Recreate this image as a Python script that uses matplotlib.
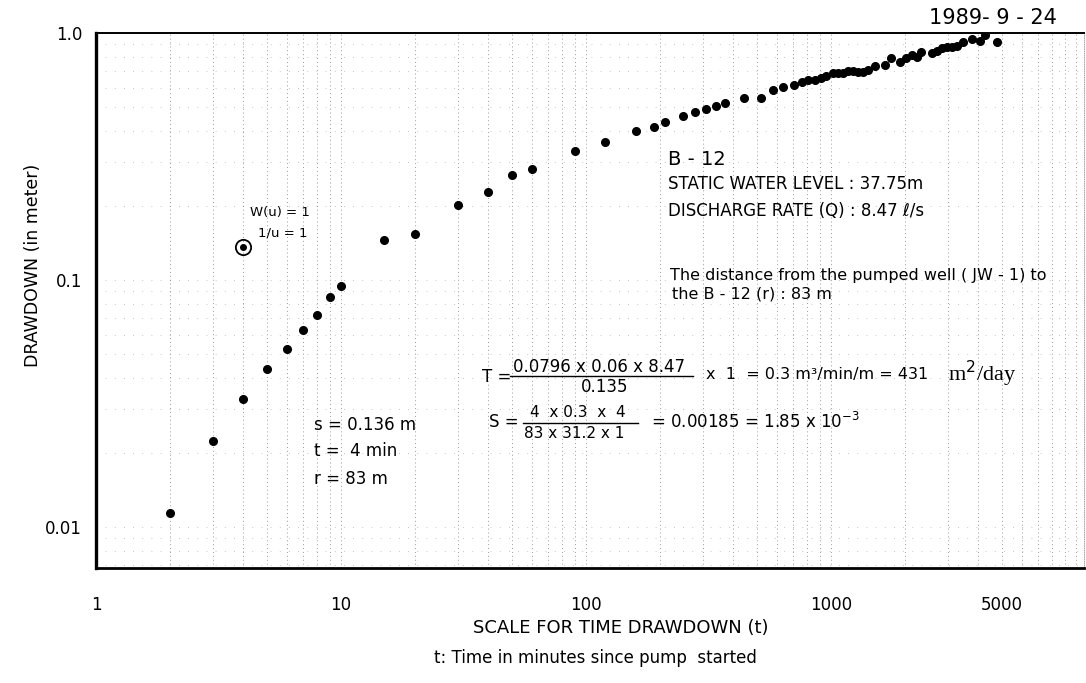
import matplotlib
matplotlib.use("Agg")
import matplotlib.pyplot as plt
from matplotlib.lines import Line2D
from matplotlib.ticker import LogLocator, NullFormatter

# observation well B-12: time since pumping started (min) and drawdown (m)
time_min = [2, 3, 4, 5, 6, 7, 8, 9, 10, 15, 20, 30, 40, 50, 60, 90,
            120, 160, 190, 210, 250, 280, 310, 340, 370, 440, 520, 580,
            640, 710, 760, 810, 860, 910, 955, 1020, 1070, 1120, 1170,
            1230, 1290, 1350, 1420, 1510, 1660, 1760, 1910, 2030, 2140,
            2250, 2330, 2580, 2710, 2840, 2970, 3120, 3270, 3460, 3760,
            4060, 4250, 4760]
drawdown_m = [0.0114, 0.0223, 0.033, 0.0436, 0.0526, 0.0628, 0.0722, 0.0853,
              0.0946, 0.145, 0.154, 0.201, 0.227, 0.266, 0.281, 0.333,
              0.362, 0.401, 0.416, 0.436, 0.461, 0.479, 0.492, 0.506, 0.521,
              0.546, 0.546, 0.588, 0.604, 0.616, 0.633, 0.645, 0.645, 0.657,
              0.670, 0.689, 0.689, 0.689, 0.702, 0.702, 0.695, 0.695, 0.708,
              0.735, 0.742, 0.792, 0.763, 0.792, 0.815, 0.799, 0.838, 0.830,
              0.846, 0.870, 0.877, 0.877, 0.886, 0.920, 0.946, 0.929, 0.981,
              0.920]

# match point of the type curve, W(u) = 1 and 1/u = 1
match_t = 4
match_s = 0.136

x_ticks = [1, 10, 100, 1000, 5000]
x_tick_labels = ["1", "10", "100", "1000", "5000"]
y_ticks = [0.01, 0.1, 1.0]
y_tick_labels = ["0.01", "0.1", "1.0"]

fig = plt.figure(figsize=(10.86, 6.83), dpi=100)
ax = fig.add_axes([0.0884, 0.1684, 0.9098, 0.7833])
ax.set_xscale("log")
ax.set_yscale("log")
ax.set_xlim(1, 10800)
ax.set_ylim(0.00683, 1.0)

# log paper grid
ax.xaxis.set_minor_locator(LogLocator(base=10, subs=range(1, 10), numticks=30))
ax.yaxis.set_minor_locator(LogLocator(base=10, subs=range(1, 10), numticks=30))
ax.xaxis.set_minor_formatter(NullFormatter())
ax.yaxis.set_minor_formatter(NullFormatter())
ax.grid(True, which="both", axis="x", color="black", lw=0.7,
        ls=(0, (1, 3)), alpha=0.4)
ax.grid(True, which="both", axis="y", color="black", lw=0.6,
        ls=(0, (1, 10)), alpha=0.3)
ax.set_axisbelow(True)

ax.set_xticks(x_ticks)
ax.set_xticklabels(x_tick_labels)
ax.set_yticks(y_ticks)
ax.set_yticklabels(y_tick_labels)
ax.tick_params(which="both", length=0)
ax.tick_params(axis="x", pad=20, labelsize=12)
ax.tick_params(axis="y", pad=10, labelsize=12)

for side, lw in [("left", 2.4), ("bottom", 2.0), ("top", 1.4)]:
    ax.spines[side].set_linewidth(lw)
ax.spines["right"].set_linewidth(0.6)
ax.spines["right"].set_color("0.6")
ax.spines["right"].set_linestyle(":")

ax.plot(time_min, drawdown_m, "o", color="black", ms=5.5, zorder=3)
ax.plot(match_t, match_s, "o", mfc="none", mec="black", ms=11, mew=1.3, zorder=3)
ax.plot(match_t, match_s, "o", color="black", ms=4, zorder=3)

tr = ax.transAxes
ax.text(0.156, 0.664, "W(u) = 1", transform=tr, fontsize=9.5, va="center")
ax.text(0.164, 0.626, "1/u = 1", transform=tr, fontsize=9.5, va="center")

ax.text(0.579, 0.764, "B - 12", transform=tr, fontsize=14, va="center")
ax.text(0.579, 0.718, "STATIC WATER LEVEL : 37.75m", transform=tr,
        fontsize=12, va="center")
ax.text(0.579, 0.667, "DISCHARGE RATE (Q) : 8.47 \u2113/s", transform=tr,
        fontsize=12, va="center")
ax.text(0.581, 0.546, "The distance from the pumped well ( JW - 1) to",
        transform=tr, fontsize=11.5, va="center")
ax.text(0.583, 0.513, "the B - 12 (r) : 83 m", transform=tr, fontsize=11.5,
        va="center")

# transmissivity
ax.text(0.391, 0.357, "T =", transform=tr, fontsize=12, va="center")
ax.text(0.509, 0.376, "0.0796 x 0.06 x 8.47", transform=tr, fontsize=12,
        ha="center", va="center")
ax.add_line(Line2D([0.419, 0.604], [0.358, 0.358], transform=tr,
                   color="black", lw=1.0))
ax.text(0.515, 0.338, "0.135", transform=tr, fontsize=12, ha="center",
        va="center")
ax.text(0.617, 0.361, "x  1  = 0.3 m\u00b3/min/m = 431", transform=tr,
        fontsize=11.5, va="center")
ax.text(0.862, 0.363, "m$^2$/day", transform=tr, fontsize=16, va="center",
        family="Liberation Serif")

# storage coefficient
ax.text(0.398, 0.273, "S =", transform=tr, fontsize=12, va="center")
ax.text(0.488, 0.290, "4  x 0.3  x  4", transform=tr, fontsize=11,
        ha="center", va="center")
ax.add_line(Line2D([0.432, 0.549], [0.271, 0.271], transform=tr,
                   color="black", lw=1.0))
ax.text(0.484, 0.252, "83 x 31.2 x 1", transform=tr, fontsize=11,
        ha="center", va="center")
ax.text(0.562, 0.273, "= 0.00185 = 1.85 x 10$^{-3}$", transform=tr,
        fontsize=12, va="center")

# match point values
ax.text(0.221, 0.267, "s = 0.136 m", transform=tr, fontsize=12, va="center")
ax.text(0.221, 0.219, "t =  4 min", transform=tr, fontsize=12, va="center")
ax.text(0.221, 0.166, "r = 83 m", transform=tr, fontsize=12, va="center")

fig.text(0.030, 0.612, "DRAWDOWN (in meter)", fontsize=12.5, rotation=90,
         ha="center", va="center")
fig.text(0.855, 0.973, "1989- 9 - 24", fontsize=15, va="center")
fig.text(0.572, 0.081, "SCALE FOR TIME DRAWDOWN (t)", fontsize=13,
         ha="center", va="center")
fig.text(0.548, 0.037, "t: Time in minutes since pump  started", fontsize=12,
         ha="center", va="center")

fig.savefig("out.png", dpi=100)
